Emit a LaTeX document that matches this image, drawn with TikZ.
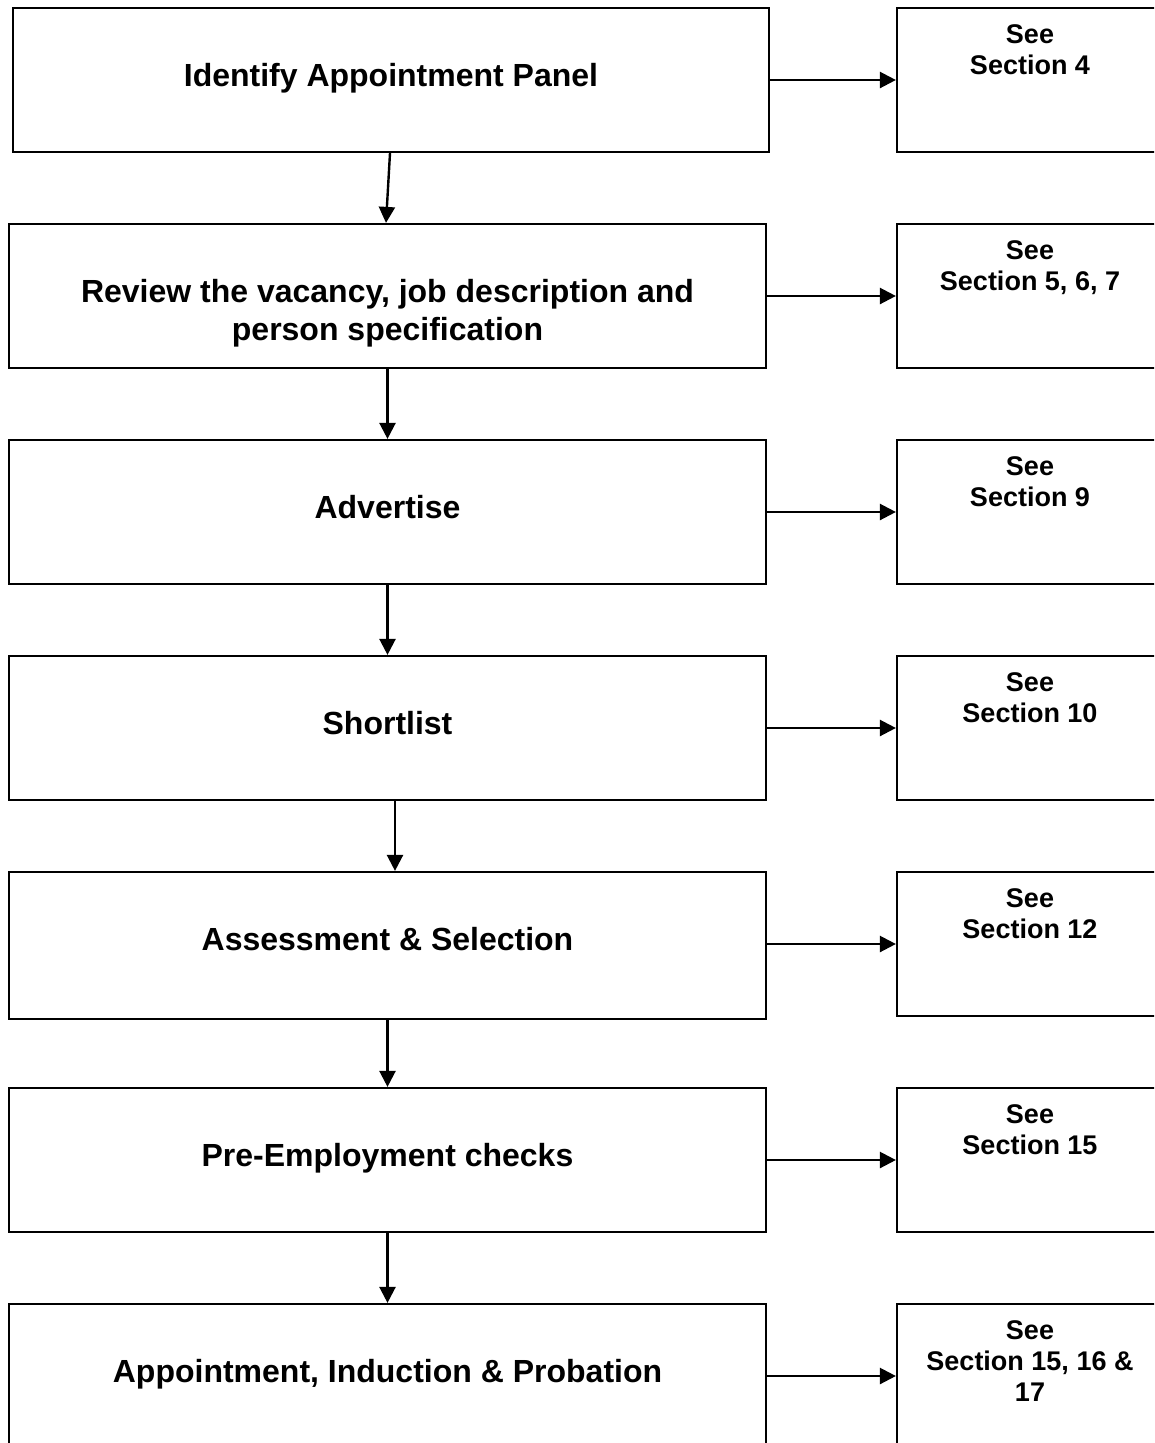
\documentclass[tikz,border=0pt]{standalone}
\usepackage{fontspec}
\setmainfont{Liberation Sans}
\usetikzlibrary{positioning,arrows.meta}
\tikzset{
  stage/.style={draw,line width=2.2pt,minimum width=757pt,minimum height=144pt,inner sep=0pt},
  stagetext/.style={font=\fontsize{32}{38}\selectfont\bfseries,align=center,inner sep=0pt},
  refbox/.style={draw,line width=2.2pt,minimum width=266pt,minimum height=144pt,inner sep=0pt},
  reftext/.style={font=\fontsize{27}{31}\selectfont\bfseries,align=center,inner sep=0pt},
  flow/.style={line width=2.4pt,-{Triangle[length=16pt,width=16pt]}}
}
\begin{document}
\begin{tikzpicture}[x=1pt,y=-1pt]
  \useasboundingbox (0,0) rectangle (1154,1443);
  \clip (0,0) rectangle (1154,1443);
  % steps
  \node[stage,minimum width=756pt] (panel) at (391,80) {};
  \node[stage] (review) at (387.5,296) {};
  \node[stage] (advert) at (387.5,512) {};
  \node[stage] (short) at (387.5,728) {};
  \node[stage,minimum height=147pt] (assess) at (387.5,945.5) {};
  \node[stage] (checks) at (387.5,1160) {};
  \node[stage] (appoint) at (387.5,1376) {};
  \node[stagetext,below=56pt of panel.north] (panellabel) {Identify Appointment Panel};
  \node[stagetext,below=56pt of review.north] (reviewlabel) {Review the vacancy, job description and\\person specification};
  \node[stagetext,below=56pt of advert.north] (advertlabel) {Advertise};
  \node[stagetext,below=56pt of short.north] (shortlabel) {Shortlist};
  \node[stagetext,below=56pt of assess.north] (assesslabel) {Assessment \& Selection};
  \node[stagetext,below=56pt of checks.north] (checkslabel) {Pre-Employment checks};
  \node[stagetext,below=56pt of appoint.north] (appointlabel) {Appointment, Induction \& Probation};
  % sections
  \node[refbox] (seca) at (1030,80) {};
  \node[refbox] (secb) at (1030,296) {};
  \node[refbox] (secc) at (1030,512) {};
  \node[refbox] (secd) at (1030,728) {};
  \node[refbox] (sece) at (1030,944) {};
  \node[refbox] (secf) at (1030,1160) {};
  \node[refbox] (secg) at (1030,1376) {};
  \node[reftext,below=18pt of seca.north] (secalabel) {See\\Section 4};
  \node[reftext,below=18pt of secb.north] (secblabel) {See\\Section 5, 6, 7};
  \node[reftext,below=18pt of secc.north] (secclabel) {See\\Section 9};
  \node[reftext,below=18pt of secd.north] (secdlabel) {See\\Section 10};
  \node[reftext,below=18pt of sece.north] (secelabel) {See\\Section 12};
  \node[reftext,below=18pt of secf.north] (secflabel) {See\\Section 15};
  \node[reftext,below=18pt of secg.north] (secglabel) {See\\Section 15, 16 \&\\17};
  % arrows
  \draw[flow] ([xshift=-1pt]panel.south) -- ([xshift=-1.5pt]review.north);
  \draw[flow] (review) -- (advert);
  \draw[flow] (advert) -- (short);
  \draw[flow] ([xshift=7.5pt]short.south) -- ([xshift=7.5pt]assess.north);
  \draw[flow] (assess) -- (checks);
  \draw[flow] (checks) -- (appoint);
  \draw[flow] (panel) -- (seca);
  \draw[flow] (review) -- (secb);
  \draw[flow] (advert) -- (secc);
  \draw[flow] (short) -- (secd);
  \draw[flow] (assess.east |- sece) -- (sece.west);
  \draw[flow] (checks) -- (secf);
  \draw[flow] (appoint) -- (secg);
\end{tikzpicture}
\end{document}
